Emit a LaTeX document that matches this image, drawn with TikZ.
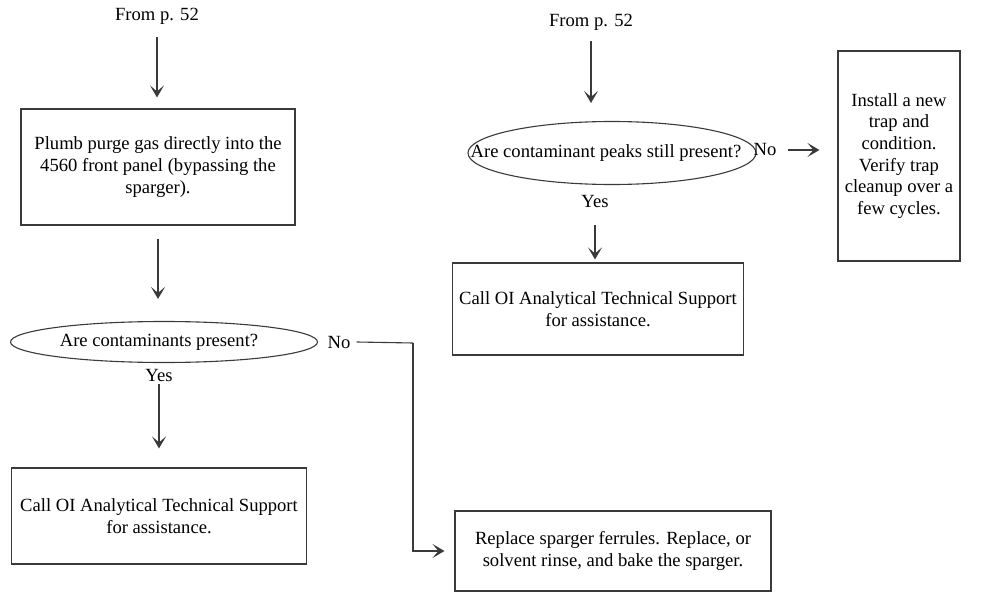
\documentclass[tikz,border=0pt]{standalone}
\usepackage{fontspec}
\setmainfont{Liberation Serif}
\usetikzlibrary{arrows.meta,shapes.geometric}
\definecolor{ink}{HTML}{3A3A3A}

\begin{document}
\begin{tikzpicture}[x=1pt,y=-1pt,
  font=\fontsize{18.6}{21.7}\selectfont,
  box/.style={draw=ink,line width=1.1pt,align=center,inner sep=0pt},
  decision/.style={draw=ink,ellipse,line width=1.1pt,inner sep=0pt},
  lbl/.style={inner sep=1pt},
  arr/.style={draw=ink,line width=1.1pt,-{Stealth[length=12pt,width=14pt,inset=6pt]}},
  wire/.style={draw=ink,line width=1.1pt}]
  \useasboundingbox (0,0) rectangle (985,596);

  % left branch
  \node[lbl] (from1) at (157,16) {From p. 52};
  \node[box,minimum width=274pt,minimum height=116pt] (plumb) at (158,167)
    {Plumb purge gas directly into the\\4560 front panel (bypassing the\\sparger).};
  \node[decision,minimum width=307pt,minimum height=41pt,
    label={[lbl,xshift=-5pt]center:Are contaminants present?}] (ask1) at (164,342) {};
  \node[lbl] (yes1) at (159,375) {Yes};
  \node[lbl] (no1) at (339,342) {No};
  \node[box,minimum width=295pt,minimum height=96pt] (callL) at (159,516)
    {Call OI Analytical Technical Support\\for assistance.};
  \node[box,minimum width=316pt,minimum height=80pt] (replace) at (613,551)
    {Replace sparger ferrules. Replace, or\\solvent rinse, and bake the sparger.};
  \coordinate (bend) at (413,343);

  \draw[arr,shorten <=12pt,shorten >=11pt] (from1.south) -- (from1.south |- plumb.north);
  \draw[arr,shorten <=13pt,shorten >=22pt] (plumb.south) -- (plumb.south |- ask1.north);
  \draw[arr,shorten <=2pt,shorten >=19pt] (yes1.south) -- (yes1.south |- callL.north);
  \draw[wire] ([xshift=5pt]no1.east) -- (bend);
  \draw[arr,shorten >=10pt] (bend) |- (replace.west);

  % right branch
  \node[lbl] (from2) at (591,22) {From p. 52};
  \node[decision,minimum width=288pt,minimum height=63pt,
    label={[lbl,xshift=-6pt]center:Are contaminant peaks still present?}] (ask2) at (612,153) {};
  \node[lbl] (no2) at (765,150) {No};
  \node[box,minimum width=122pt,minimum height=210pt] (install) at (899,156)
    {Install a new\\trap and\\condition.\\Verify trap\\cleanup over a\\few cycles.};
  \node[lbl] (yes2) at (595,202) {Yes};
  \node[box,minimum width=291pt,minimum height=92pt] (callR) at (598,309)
    {Call OI Analytical Technical Support\\for assistance.};

  \draw[arr,shorten <=10pt,shorten >=18pt] (from2.south) -- (from2.south |- ask2.north);
  \draw[arr,shorten <=10pt,shorten >=18pt] (no2.east) -- (no2.east -| install.west);
  \draw[arr,shorten <=16pt,shorten >=3pt] (yes2.south) -- (yes2.south |- callR.north);
\end{tikzpicture}
\end{document}
